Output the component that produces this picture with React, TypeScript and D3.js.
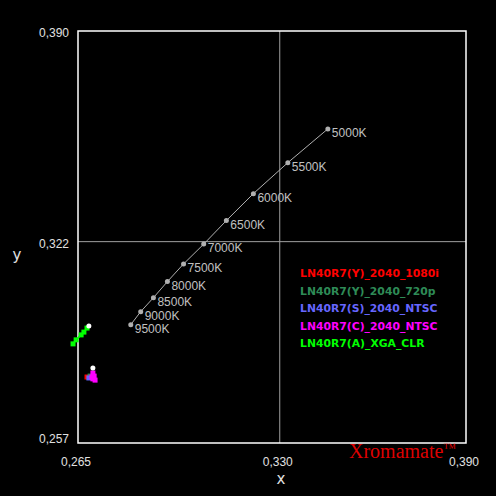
import { useEffect, useRef } from "react";
import * as d3 from "d3";

// daylight locus points
const cctLabels = ["5000K", "5500K", "6000K", "6500K", "7000K", "7500K", "8000K", "8500K", "9000K", "9500K"];
const cctX = [0.3455, 0.3326, 0.3215, 0.3128, 0.3055, 0.299, 0.2938, 0.2893, 0.2852, 0.282];
const cctY = [0.3584, 0.3475, 0.3375, 0.3288, 0.3212, 0.3148, 0.3091, 0.3039, 0.2994, 0.2952];

const seriesNames = [
  "LN40R7(Y)_2040_1080i",
  "LN40R7(Y)_2040_720p",
  "LN40R7(S)_2040_NTSC",
  "LN40R7(C)_2040_NTSC",
  "LN40R7(A)_XGA_CLR",
];
const seriesColors = ["#ff0000", "#2e8b57", "#6666ff", "#ff00ff", "#00ff00"];
const seriesX = [
  [0.2679],
  [0.2689],
  [0.2685],
  [0.2698, 0.2702, 0.2695, 0.2698, 0.2705],
  [0.2634, 0.2644, 0.266, 0.2669, 0.2679],
];
const seriesY = [
  [0.2783],
  [0.2786],
  [0.278],
  [0.2796, 0.2786, 0.2783, 0.2777, 0.2773],
  [0.289, 0.2903, 0.2919, 0.2928, 0.2941],
];
// white (reference) markers
const whiteX = [0.2685, 0.2698];
const whiteY = [0.2948, 0.2812];

const xTicks = [0.265, 0.33, 0.39];
const yTicks = [0.257, 0.322, 0.39];

export default function App() {
  const svgRef = useRef<SVGSVGElement>(null);

  useEffect(() => {
    document.body.style.margin = "0";
    document.body.style.background = "#000";
    if (!svgRef.current) return;
    const svg = d3.select(svgRef.current);
    svg.selectAll("*").remove();

    const width = 496;
    const height = 496;
    const margin = { top: 31, right: 30, bottom: 53, left: 78 };

    const x = d3.scaleLinear().domain([0.265, 0.39]).range([margin.left, width - margin.right]);
    const y = d3.scaleLinear().domain([0.257, 0.39]).range([height - margin.bottom, margin.top]);

    svg.append("rect").attr("width", width).attr("height", height).attr("fill", "#000");

    // grid lines at middle ticks
    svg.append("line")
      .attr("x1", x(0.33)).attr("x2", x(0.33))
      .attr("y1", y(0.39)).attr("y2", y(0.257))
      .attr("stroke", "#a0a0a0").attr("stroke-width", 1);
    svg.append("line")
      .attr("x1", x(0.265)).attr("x2", x(0.39))
      .attr("y1", y(0.322)).attr("y2", y(0.322))
      .attr("stroke", "#a0a0a0").attr("stroke-width", 1);

    // frame
    svg.append("rect")
      .attr("x", x(0.265)).attr("y", y(0.39))
      .attr("width", x(0.39) - x(0.265)).attr("height", y(0.257) - y(0.39))
      .attr("fill", "none").attr("stroke", "#ffffff").attr("stroke-width", 1.5);

    const tickFont = "'Liberation Sans', Arial, sans-serif";
    const fmt = (t: number) => d3.format(".3f")(t).replace(".", ",");

    yTicks.forEach((t, i) => {
      svg.append("text")
        .attr("x", 69).attr("y", y(t) + (i === 0 ? 0 : 6))
        .attr("text-anchor", "end")
        .attr("font-family", tickFont).attr("font-size", 12)
        .attr("fill", "#e0e0e0")
        .text(fmt(t));
    });
    xTicks.forEach((t) => {
      svg.append("text")
        .attr("x", x(t) - 2).attr("y", 466)
        .attr("text-anchor", "middle")
        .attr("font-family", tickFont).attr("font-size", 12)
        .attr("fill", "#e0e0e0")
        .text(fmt(t));
    });

    svg.append("text")
      .attr("x", 281).attr("y", 484).attr("text-anchor", "middle")
      .attr("font-family", "'DejaVu Sans', sans-serif").attr("font-size", 15)
      .attr("fill", "#e0e0e0").text("x");
    svg.append("text")
      .attr("x", 17).attr("y", 260).attr("text-anchor", "middle")
      .attr("font-family", "'DejaVu Sans', sans-serif").attr("font-size", 15)
      .attr("fill", "#e0e0e0").text("y");

    // daylight locus
    const locus = cctX.map((cx, i) => [cx, cctY[i]] as [number, number]);
    svg.append("path")
      .attr("d", d3.line<[number, number]>().x((d) => x(d[0])).y((d) => y(d[1]))(locus) ?? "")
      .attr("fill", "none").attr("stroke", "#b0b0b0").attr("stroke-width", 1);
    locus.forEach((d, i) => {
      svg.append("circle")
        .attr("cx", x(d[0])).attr("cy", y(d[1])).attr("r", 2.5)
        .attr("fill", "#b0b0b0");
      svg.append("text")
        .attr("x", x(d[0]) + 4).attr("y", y(d[1]) + 8)
        .attr("font-family", tickFont).attr("font-size", 12)
        .attr("fill", "#c0c0c0")
        .text(cctLabels[i]);
    });

    // measured series
    seriesNames.forEach((_, s) => {
      const pts = seriesX[s].map((sx, i) => [sx, seriesY[s][i]] as [number, number]);
      if (pts.length > 1) {
        svg.append("path")
          .attr("d", d3.line<[number, number]>().x((d) => x(d[0])).y((d) => y(d[1]))(pts) ?? "")
          .attr("fill", "none").attr("stroke", seriesColors[s]).attr("stroke-width", 1.5);
      }
      pts.forEach((d) => {
        svg.append("rect")
          .attr("x", x(d[0]) - 2.5).attr("y", y(d[1]) - 2.5)
          .attr("width", 5).attr("height", 5)
          .attr("fill", seriesColors[s]);
      });
    });
    whiteX.forEach((wx, i) => {
      svg.append("circle")
        .attr("cx", x(wx)).attr("cy", y(whiteY[i])).attr("r", 2.5)
        .attr("fill", "#ffffff");
    });

    // legend
    seriesNames.forEach((name, i) => {
      svg.append("text")
        .attr("x", 300).attr("y", 277 + i * 17.5)
        .attr("font-family", "'DejaVu Sans', sans-serif").attr("font-size", 10.8)
        .attr("font-weight", "bold")
        .attr("fill", seriesColors[i])
        .text(name);
    });

    // brand
    const brand = svg.append("text")
      .attr("x", 349).attr("y", 458)
      .attr("font-family", "'Liberation Serif', 'Times New Roman', serif").attr("font-size", 20)
      .attr("fill", "#dd0000");
    brand.append("tspan").text("Xromamate");
    brand.append("tspan").attr("font-size", 13).attr("dy", -6).text("™");
  }, []);

  return <svg ref={svgRef} width={496} height={496} style={{ display: "block" }} />;
}
